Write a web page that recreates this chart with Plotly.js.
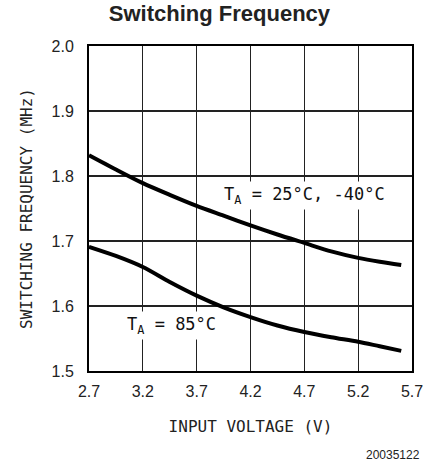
<!DOCTYPE html>
<html>
<head>
<meta charset="utf-8">
<script src="https://cdn.plot.ly/plotly-3.0.1.min.js"></script>
<style>html,body{margin:0;padding:0;background:#fff;}#chart{width:432px;height:463px;}</style>
</head>
<body>
<div id="chart"></div>
<script>
// Input voltage (V) and switching frequency (MHz)
const voltage25 = [2.7, 2.95, 3.2, 3.45, 3.7, 3.95, 4.2, 4.45, 4.7, 4.95, 5.2, 5.4, 5.6];
const freq25 = [1.832, 1.810, 1.789, 1.771, 1.754, 1.739, 1.724, 1.710, 1.697, 1.684, 1.674, 1.668, 1.663];
const voltage85 = [2.7, 2.95, 3.2, 3.45, 3.7, 3.95, 4.2, 4.45, 4.7, 4.95, 5.2, 5.4, 5.6];
const freq85 = [1.691, 1.677, 1.660, 1.637, 1.616, 1.598, 1.583, 1.570, 1.560, 1.552, 1.545, 1.538, 1.531];
const xTicks = [2.7, 3.2, 3.7, 4.2, 4.7, 5.2, 5.7];
const xTickText = ["2.7", "3.2", "3.7", "4.2", "4.7", "5.2", "5.7"];
const yTicks = [1.5, 1.6, 1.7, 1.8, 1.9, 2.0];
const yTickText = ["1.5", "1.6", "1.7", "1.8", "1.9", "2.0"];

const isoFont = "DejaVu Sans Mono, monospace";
const tickFont = {family: "Liberation Sans, Arial, sans-serif", size: 16, color: "#222"};

const traces = [
  {x: voltage25, y: freq25, mode: "lines", line: {color: "#000", width: 4, shape: "spline", smoothing: 0.8}, hoverinfo: "skip"},
  {x: voltage85, y: freq85, mode: "lines", line: {color: "#000", width: 4, shape: "spline", smoothing: 0.8}, hoverinfo: "skip"}
];

const layout = {
  width: 432, height: 463,
  margin: {l: 89, r: 20, t: 46, b: 92, pad: 0},
  paper_bgcolor: "#fff", plot_bgcolor: "#fff",
  showlegend: false,
  title: {text: "<b>Switching Frequency</b>", font: {family: "Liberation Sans, Arial, sans-serif", size: 22, color: "#222"},
          x: 0.508, xref: "container", xanchor: "center", y: 0.972, yref: "container", yanchor: "middle"},
  xaxis: {
    range: [2.7, 5.7], tickvals: xTicks, ticktext: xTickText,
    showgrid: true, gridcolor: "#222", gridwidth: 1.2,
    showline: true, linecolor: "#000", linewidth: 2, mirror: true,
    zeroline: false, ticks: "", ticklabelstandoff: 5, tickfont: tickFont,
    title: {text: "INPUT VOLTAGE (V)", font: {family: isoFont, size: 16, color: "#222"}, standoff: 22}
  },
  yaxis: {
    range: [1.5, 2.0], tickvals: yTicks, ticktext: yTickText,
    showgrid: true, gridcolor: "#222", gridwidth: 1.2,
    showline: true, linecolor: "#000", linewidth: 2, mirror: true,
    zeroline: false, ticks: "", ticklabelstandoff: 10, tickfont: tickFont,
    title: {text: "SWITCHING FREQUENCY (MHz)", font: {family: isoFont, size: 16, color: "#222"}, standoff: 15}
  },
  annotations: [
    {x: 4.7, y: 1.77, xref: "x", yref: "y", text: "T<sub>A</sub> = 25°C, -40°C", showarrow: false,
     font: {family: isoFont, size: 17, color: "#111"}, bgcolor: "#fff", borderpad: 2},
    {x: 3.47, y: 1.57, xref: "x", yref: "y", text: "T<sub>A</sub> = 85°C", showarrow: false,
     font: {family: isoFont, size: 17, color: "#111"}, bgcolor: "#fff", borderpad: 2},
    {x: (422 - 89) / 323, y: (370.7 - 455) / 324.7, xref: "paper", yref: "paper", xanchor: "right", yanchor: "middle",
     text: "20035122", showarrow: false, font: {family: "Liberation Sans, Arial, sans-serif", size: 12, color: "#222"}}
  ]
};

Plotly.newPlot("chart", traces, layout, {staticPlot: true, displayModeBar: false});
</script>
</body>
</html>
